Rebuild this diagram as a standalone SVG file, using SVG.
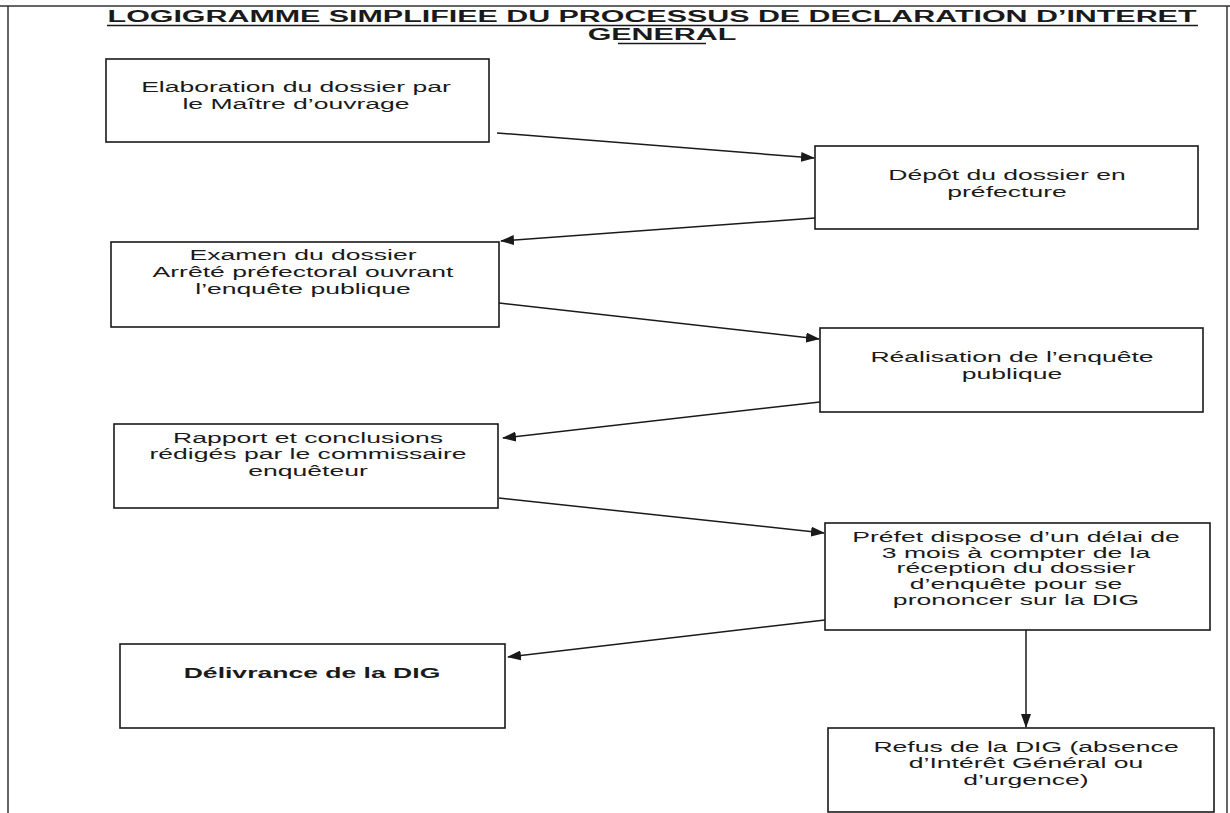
<svg xmlns="http://www.w3.org/2000/svg" width="1230" height="813" viewBox="0 0 1230 813">
  <style>
    .box { fill: #ffffff; stroke: #1a1a1a; stroke-width: 1.6; }
    .t { font-family: "Liberation Sans", Arial, sans-serif; font-size: 15px; fill: #1a1a1a; text-anchor: middle; }
    .b { font-weight: bold; }
    .title { font-family: "Liberation Sans", Arial, sans-serif; font-size: 17px; font-weight: bold; fill: #1a1a1a; text-anchor: middle; }
    .conn { stroke: #1a1a1a; stroke-width: 1.5; fill: none; marker-end: url(#arrow); }
    .frame { stroke: #333333; stroke-width: 1.5; fill: none; }
  </style>
  <defs>
    <marker id="arrow" viewBox="0 0 14 10" refX="13" refY="5" markerWidth="14" markerHeight="10" markerUnits="userSpaceOnUse" orient="auto">
      <path d="M0,0 L14,5 L0,10 Z" fill="#1a1a1a"/>
    </marker>
  </defs>
  <rect x="0" y="0" width="1230" height="813" fill="#ffffff"/>

  <g id="frame">
    <line class="frame" x1="0" y1="6" x2="1230" y2="6"/>
    <line class="frame" x1="8" y1="6" x2="8" y2="813"/>
    <line class="frame" x1="1227" y1="6" x2="1227" y2="813" stroke="#bbbbbb"/>
  </g>

  <g id="title">
    <text class="title" transform="translate(652,22) scale(1.79,1)">LOGIGRAMME SIMPLIFIEE DU PROCESSUS DE DECLARATION D’INTERET</text>
    <text class="title" transform="translate(662,40) scale(1.79,1)">GENERAL</text>
    <line x1="107" y1="25.5" x2="1198" y2="25.5" stroke="#1a1a1a" stroke-width="1.3"/>
    <line x1="618" y1="43.5" x2="706" y2="43.5" stroke="#1a1a1a" stroke-width="1.3"/>
  </g>

  <g id="connectors">
    <line class="conn" x1="497" y1="133" x2="814" y2="158"/>
    <line class="conn" x1="815" y1="218" x2="501" y2="241"/>
    <line class="conn" x1="499" y1="303" x2="819" y2="339"/>
    <line class="conn" x1="820" y1="402" x2="503" y2="438"/>
    <line class="conn" x1="499" y1="498" x2="824" y2="533"/>
    <line class="conn" x1="825" y1="620" x2="508" y2="657"/>
    <line class="conn" x1="1026" y1="630" x2="1026" y2="727"/>
  </g>

  <g id="n1">
    <rect class="box" x="106" y="59" width="383" height="83"/>
    <text class="t" transform="translate(296,92) scale(1.77,1)"><tspan x="0">Elaboration du dossier par</tspan><tspan x="0" dy="17">le Maître d’ouvrage</tspan></text>
  </g>
  <g id="n2">
    <rect class="box" x="815" y="146" width="383" height="83"/>
    <text class="t" transform="translate(1007,180) scale(1.77,1)"><tspan x="0">Dépôt du dossier en</tspan><tspan x="0" dy="17">préfecture</tspan></text>
  </g>
  <g id="n3">
    <rect class="box" x="111" y="242" width="388" height="85"/>
    <text class="t" transform="translate(303,260) scale(1.77,1)"><tspan x="0">Examen du dossier</tspan><tspan x="0" dy="17">Arrêté préfectoral ouvrant</tspan><tspan x="0" dy="17">l’enquête publique</tspan></text>
  </g>
  <g id="n4">
    <rect class="box" x="820" y="328" width="383" height="84"/>
    <text class="t" transform="translate(1012,362) scale(1.77,1)"><tspan x="0">Réalisation de l’enquête</tspan><tspan x="0" dy="17">publique</tspan></text>
  </g>
  <g id="n5">
    <rect class="box" x="114" y="424" width="384" height="84"/>
    <text class="t" transform="translate(308,443) scale(1.77,1)"><tspan x="0">Rapport et conclusions</tspan><tspan x="0" dy="16.5">rédigés par le commissaire</tspan><tspan x="0" dy="16.5">enquêteur</tspan></text>
  </g>
  <g id="n6">
    <rect class="box" x="825" y="523" width="385" height="107"/>
    <text class="t" transform="translate(1016,542) scale(1.77,1)"><tspan x="0">Préfet dispose d’un délai de</tspan><tspan x="0" dy="15.7">3 mois à compter de la</tspan><tspan x="0" dy="15.7">réception du dossier</tspan><tspan x="0" dy="15.7">d’enquête pour se</tspan><tspan x="0" dy="15.7">prononcer sur la DIG</tspan></text>
  </g>
  <g id="n7">
    <rect class="box" x="120" y="644" width="385" height="84"/>
    <text class="t b" transform="translate(312,678) scale(1.77,1)">Délivrance de la DIG</text>
  </g>
  <g id="n8">
    <rect class="box" x="828" y="728" width="386" height="84"/>
    <text class="t" transform="translate(1026,752) scale(1.77,1)"><tspan x="0">Refus de la DIG (absence</tspan><tspan x="0" dy="16.5">d’Intérêt Général ou</tspan><tspan x="0" dy="16.5">d’urgence)</tspan></text>
  </g>
</svg>
